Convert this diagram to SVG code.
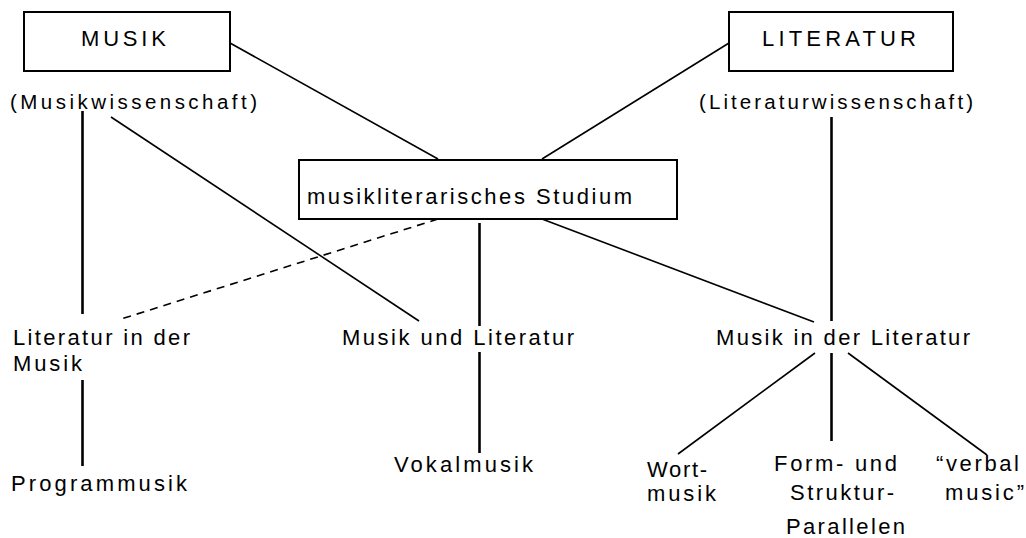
<svg xmlns="http://www.w3.org/2000/svg" width="1026" height="538" viewBox="0 0 1026 538">
<style>
text{font-family:"Liberation Sans",Arial,sans-serif;fill:#000;font-size:22px}
.box{fill:#fff;stroke:#000;stroke-width:2}
.v{stroke:#000;stroke-width:2.6;fill:none}
.d{stroke:#000;stroke-width:1.6;fill:none}
.dash{stroke:#000;stroke-width:1.6;fill:none;stroke-dasharray:8 6}
.sm{font-size:20.5px}
</style>
<rect width="1026" height="538" fill="#fff"/>
<g id="connectors">
<line class="d" x1="230" y1="43" x2="438" y2="159"/>
<line class="d" x1="729" y1="43" x2="542" y2="159"/>
<line class="d" x1="111" y1="117" x2="419" y2="321"/>
<line class="dash" x1="438" y1="219" x2="118" y2="320"/>
<line class="d" x1="542" y1="219" x2="814" y2="322"/>
<line class="d" x1="815" y1="353" x2="678" y2="454"/>
<line class="d" x1="848" y1="353" x2="987" y2="455"/>
<line class="v" x1="82.5" y1="111" x2="82.5" y2="314"/>
<line class="v" x1="82.5" y1="380" x2="82.5" y2="466"/>
<line class="v" x1="479.5" y1="223" x2="479.5" y2="326"/>
<line class="v" x1="479.5" y1="352" x2="479.5" y2="453"/>
<line class="v" x1="831.5" y1="117" x2="831.5" y2="321"/>
<line class="v" x1="831.5" y1="353" x2="831.5" y2="441"/>
</g>
<g id="musik">
<rect class="box" x="24" y="12" width="206" height="59"/>
<text x="81" y="46" textLength="85" lengthAdjust="spacing">MUSIK</text>
</g>
<g id="musikwissenschaft">
<text class="sm" x="10" y="109" textLength="247" lengthAdjust="spacing">(Musikwissenschaft)</text>
</g>
<g id="literatur">
<rect class="box" x="729" y="12" width="224" height="59"/>
<text x="762" y="46" textLength="154" lengthAdjust="spacing">LITERATUR</text>
</g>
<g id="literaturwissenschaft">
<text class="sm" x="699" y="109" textLength="274" lengthAdjust="spacing">(Literaturwissenschaft)</text>
</g>
<g id="studium">
<rect class="box" x="299" y="160" width="378" height="59"/>
<text x="307" y="204" textLength="325" lengthAdjust="spacing">musikliterarisches Studium</text>
</g>
<g id="literatur-in-der-musik">
<text x="13" y="345" textLength="177" lengthAdjust="spacing">Literatur in der</text>
<text x="13" y="371" textLength="69" lengthAdjust="spacing">Musik</text>
</g>
<g id="programmusik">
<text x="11" y="491" textLength="176" lengthAdjust="spacing">Programmusik</text>
</g>
<g id="musik-und-literatur">
<text x="342" y="345" textLength="232" lengthAdjust="spacing">Musik und Literatur</text>
</g>
<g id="vokalmusik">
<text x="394" y="472" textLength="139" lengthAdjust="spacing">Vokalmusik</text>
</g>
<g id="musik-in-der-literatur">
<text x="716" y="345" textLength="254" lengthAdjust="spacing">Musik in der Literatur</text>
</g>
<g id="wortmusik">
<text x="647" y="477" textLength="60" lengthAdjust="spacing">Wort-</text>
<text x="647" y="501" textLength="69" lengthAdjust="spacing">musik</text>
</g>
<g id="form-struktur">
<text x="774" y="471" textLength="123" lengthAdjust="spacing">Form- und</text>
<text x="790" y="500" textLength="104" lengthAdjust="spacing">Struktur-</text>
<text x="786" y="534" textLength="119" lengthAdjust="spacing">Parallelen</text>
</g>
<g id="verbal-music">
<text x="936" y="471" textLength="83" lengthAdjust="spacing">“verbal</text>
<text x="945" y="500" textLength="79" lengthAdjust="spacing">music”</text>
</g>
</svg>
